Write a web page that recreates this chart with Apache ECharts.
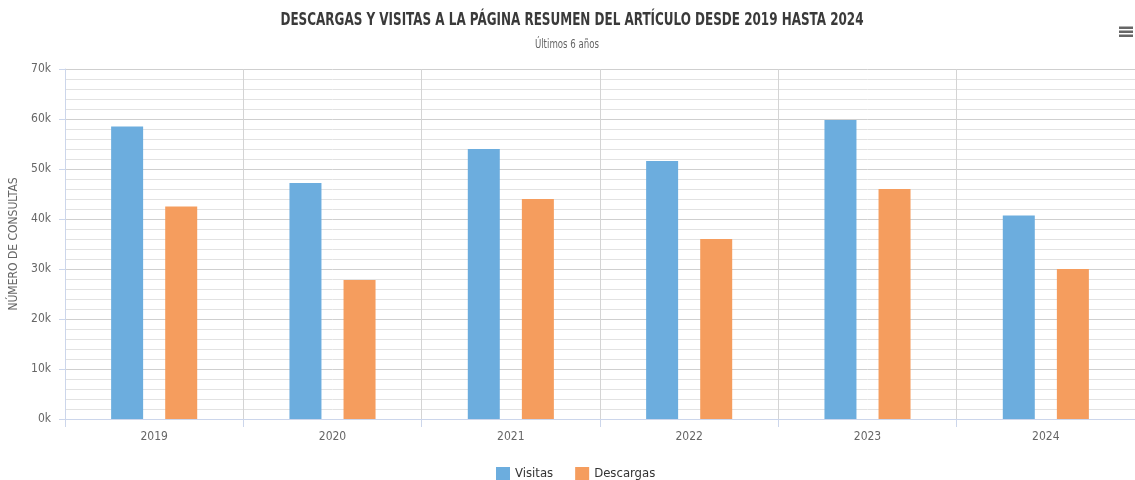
<!DOCTYPE html>
<html><head><meta charset="utf-8">
<script src="https://cdn.jsdelivr.net/npm/echarts@6/dist/echarts.min.js"></script>
<style>html,body{margin:0;padding:0;background:#fff}#c{width:1135px;height:480px}</style>
</head><body><div id="c"></div>
<script>
const categories = ['2019','2020','2021','2022','2023','2024'];
const visitas = [58500, 47200, 54000, 51600, 59800, 40700];
const descargas = [42500, 27800, 44000, 36000, 46000, 30000];
const yTicks = [0, 10000, 20000, 30000, 40000, 50000, 60000, 70000];
const titleText = 'DESCARGAS Y VISITAS A LA PÁGINA RESUMEN DEL ARTÍCULO DESDE 2019 HASTA 2024';
const subtitleText = 'Últimos 6 años';

const FONT = '"DejaVu Sans Condensed","Liberation Sans Narrow",sans-serif';
const chart = echarts.init(document.getElementById('c'));
chart.setOption({
  animation: false,
  textStyle: { fontFamily: FONT },
  legend: {
    top: 467, left: 496, padding: 0, itemWidth: 14, itemHeight: 14, itemGap: 22,
    icon: 'rect',
    textStyle: { fontFamily: FONT, fontSize: 13, color: '#333' },
    data: ['Visitas', 'Descargas']
  },
  graphic: [
    { type: 'text', x: 572, y: 20, scaleX: 0.74, scaleY: 1,
      style: { text: titleText, fontFamily: FONT, fontSize: 18, fontWeight: 'bold',
        fill: '#3a3a3a', textAlign: 'center', textVerticalAlign: 'middle' } },
    { type: 'text', x: 567, y: 45, scaleX: 0.8, scaleY: 1,
      style: { text: subtitleText, fontFamily: FONT, fontSize: 12,
        fill: '#666', textAlign: 'center', textVerticalAlign: 'middle' } },
    { type: 'rect', shape: { x: 1119, y: 26.5, width: 14, height: 2.5 }, style: { fill: '#666' } },
    { type: 'rect', shape: { x: 1119, y: 30.5, width: 14, height: 2.5 }, style: { fill: '#666' } },
    { type: 'rect', shape: { x: 1119, y: 34.5, width: 14, height: 2.5 }, style: { fill: '#666' } }
  ],
  grid: { left: 64, top: 69, width: 1076, height: 350 },
  xAxis: {
    type: 'category', data: categories,
    axisLine: { lineStyle: { color: '#ccd6eb' } },
    axisTick: { show: true, length: 8, lineStyle: { color: '#ccd6eb' } },
    splitLine: { show: true, lineStyle: { color: '#d4d4d4' } },
    axisLabel: { color: '#666', fontSize: 12, margin: 12, fontFamily: FONT }
  },
  yAxis: {
    type: 'value', min: 0, max: 70000, interval: 10000,
    name: 'NÚMERO DE CONSULTAS', nameLocation: 'middle', nameGap: 45, nameRotate: 90,
    nameTextStyle: { color: '#666', fontSize: 12, fontFamily: FONT },
    axisLine: { show: true, lineStyle: { color: '#ccd6eb' } },
    axisTick: { show: true, length: 6, lineStyle: { color: '#ccd6eb' } },
    axisLabel: { color: '#666', fontSize: 12, margin: 14, fontFamily: FONT,
      formatter: v => (yTicks.includes(v) ? (v / 1000) + 'k' : '') },
    splitLine: { lineStyle: { color: '#cfcfcf' } },
    minorTick: { show: false, splitNumber: 5 },
    minorSplitLine: { show: true, lineStyle: { color: '#e2e2e2' } }
  },
  series: [
    { name: 'Visitas', type: 'bar', data: visitas, barWidth: 32, barGap: '69%',
      itemStyle: { color: '#6cadde' } },
    { name: 'Descargas', type: 'bar', data: descargas, barWidth: 32,
      itemStyle: { color: '#f59d5e' } }
  ]
});
</script></body></html>
